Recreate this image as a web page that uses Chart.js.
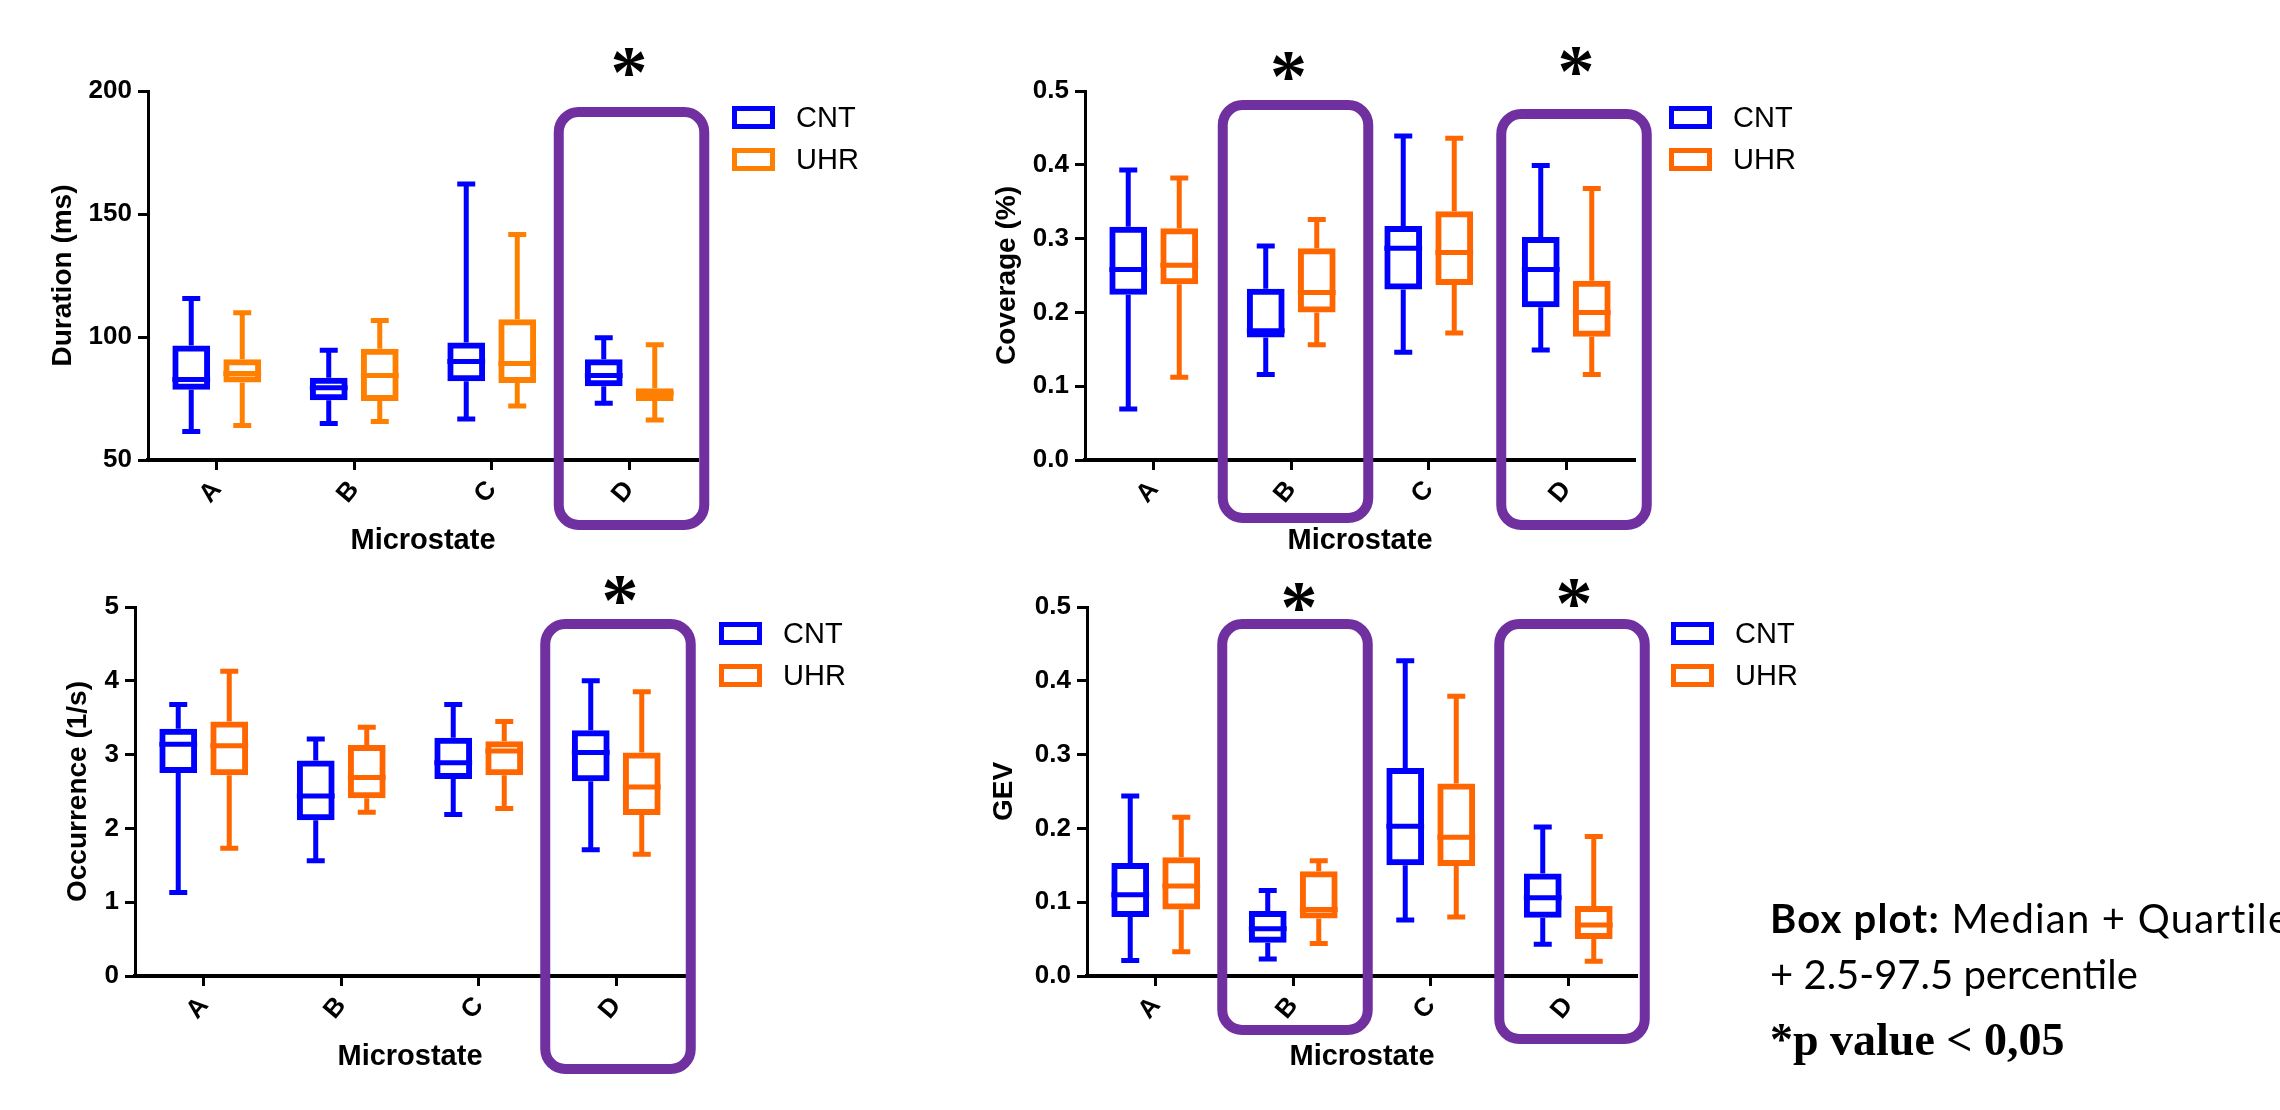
<!DOCTYPE html>
<html>
<head>
<meta charset="utf-8">
<script src="https://cdn.jsdelivr.net/npm/chart.js@4.4.1/dist/chart.umd.min.js"></script>
<style>
  html, body { margin: 0; padding: 0; background: #fff; width: 2280px; height: 1110px; overflow: hidden; }
  .panel { position: absolute; width: 940px; height: 570px; }
  .note { position: absolute; left: 1770px; white-space: nowrap; color: #000; z-index: 2; }
  .calibri { font-family: Lato, 'Open Sans', sans-serif; font-size: 40px; line-height: 40px; }
  .times { font-family: 'Liberation Serif', serif; font-weight: bold; font-size: 46px; line-height: 46px; }
</style>
</head>
<body>
<div class="panel" style="left:0px;top:0px"><canvas id="duration"></canvas></div>
<div class="panel" style="left:937px;top:0px"><canvas id="coverage"></canvas></div>
<div class="panel" style="left:-13px;top:516px"><canvas id="occurrence"></canvas></div>
<div class="panel" style="left:939px;top:516px"><canvas id="gev"></canvas></div>

<div class="note calibri" style="top:898px; letter-spacing:1.2px"><b>Box plot:</b> Median + Quartile</div>
<div class="note calibri" style="top:954px">+ 2.5-97.5 percentile</div>
<div class="note times" style="top:1017px">*p value &lt; 0,05</div>

<script>
const microstates = ['A', 'B', 'C', 'D'];

// each entry: [2.5 pct, Q1, median, Q3, 97.5 pct] for A, B, C, D
const durationCNT = [[61.6, 78.6, 82.7, 96.5, 115.7], [64.8, 74.3, 79.4, 83.4, 94.6], [66.7, 82.0, 90.0, 97.8, 162.2], [73.1, 80.0, 84.4, 91.0, 99.7]];
const durationUHR = [[64.0, 81.5, 85.2, 91.0, 109.9], [65.6, 74.0, 84.4, 95.2, 106.7], [72.0, 81.3, 89.2, 107.2, 141.7], [66.3, 74.0, 77.2, 79.2, 96.8]];

const coverageCNT = [[0.069, 0.224, 0.258, 0.316, 0.393], [0.116, 0.166, 0.175, 0.232, 0.290], [0.146, 0.231, 0.287, 0.317, 0.439], [0.149, 0.207, 0.258, 0.302, 0.399]];
const coverageUHR = [[0.112, 0.238, 0.264, 0.314, 0.382], [0.156, 0.200, 0.227, 0.287, 0.326], [0.172, 0.237, 0.281, 0.337, 0.436], [0.116, 0.167, 0.200, 0.243, 0.368]];

const occurrenceCNT = [[1.13, 2.75, 3.14, 3.35, 3.68], [1.56, 2.11, 2.44, 2.92, 3.21], [2.19, 2.67, 2.89, 3.23, 3.68], [1.71, 2.64, 3.03, 3.33, 4.00]];
const occurrenceUHR = [[1.73, 2.72, 3.12, 3.45, 4.13], [2.22, 2.41, 2.69, 3.13, 3.37], [2.27, 2.72, 3.05, 3.18, 3.45], [1.65, 2.18, 2.56, 3.03, 3.85]];

const gevCNT = [[0.021, 0.080, 0.110, 0.153, 0.244], [0.023, 0.045, 0.064, 0.088, 0.116], [0.076, 0.150, 0.203, 0.282, 0.427], [0.043, 0.079, 0.106, 0.139, 0.202]];
const gevUHR = [[0.033, 0.090, 0.122, 0.161, 0.215], [0.044, 0.078, 0.090, 0.142, 0.156], [0.080, 0.149, 0.188, 0.261, 0.379], [0.020, 0.050, 0.069, 0.095, 0.189]];

const durationTicks = [50, 100, 150, 200];
const coverageTicks = [0, 0.1, 0.2, 0.3, 0.4, 0.5];
const occurrenceTicks = [0, 1, 2, 3, 4, 5];
const gevTicks = [0, 0.1, 0.2, 0.3, 0.4, 0.5];

// microstates with p < 0.05
const durationSig = ['D'];
const coverageSig = ['B', 'D'];
const occurrenceSig = ['D'];
const gevSig = ['B', 'D'];

Chart.defaults.font.family = "'Liberation Sans', Arial, sans-serif";
Chart.defaults.color = '#000';

// whiskers, caps and median line on top of the floating Q1-Q3 bars
const boxPlot = {
    id: 'boxPlot',
    afterDatasetsDraw(chart) {
        const ctx = chart.ctx;
        const y = chart.scales.y;
        chart.data.datasets.forEach((ds, i) => {
            chart.getDatasetMeta(i).data.forEach((bar, j) => {
                const [lo, q1, med, q3, hi] = ds.stats[j];
                const half = bar.width / 2;
                ctx.save();
                ctx.strokeStyle = ds.borderColor;
                ctx.lineWidth = 5;
                ctx.beginPath();
                ctx.moveTo(bar.x, y.getPixelForValue(q3));
                ctx.lineTo(bar.x, y.getPixelForValue(hi));
                ctx.moveTo(bar.x, y.getPixelForValue(q1));
                ctx.lineTo(bar.x, y.getPixelForValue(lo));
                ctx.moveTo(bar.x - 9, y.getPixelForValue(hi));
                ctx.lineTo(bar.x + 9, y.getPixelForValue(hi));
                ctx.moveTo(bar.x - 9, y.getPixelForValue(lo));
                ctx.lineTo(bar.x + 9, y.getPixelForValue(lo));
                ctx.moveTo(bar.x - half, y.getPixelForValue(med));
                ctx.lineTo(bar.x + half, y.getPixelForValue(med));
                ctx.stroke();
                ctx.restore();
            });
        });
    }
};

// purple frames + asterisks around significant microstates, and the legend
function makeAnnotate(p) {
    return {
        id: 'annotate',
        afterDraw(chart) {
            const ctx = chart.ctx;
            const a = chart.chartArea;
            const x = chart.scales.x;
            const catW = (a.right - a.left) / chart.data.labels.length;
            ctx.save();
            p.sig.forEach((cat, k) => {
                const [fdx, top, bottom, sdx, sdy] = p.frames[k];
                const cx = x.getPixelForValue(chart.data.labels.indexOf(cat));
                ctx.strokeStyle = '#7030a0';
                ctx.lineWidth = 10;
                ctx.beginPath();
                ctx.roundRect(cx + fdx - catW / 2 - 4, a.top + top, catW + 8, (a.bottom + bottom) - (a.top + top), 20);
                ctx.stroke();
                ctx.fillStyle = '#000';
                ctx.font = 'bold 74px "Liberation Serif"';
                ctx.textAlign = 'center';
                ctx.textBaseline = 'alphabetic';
                ctx.fillText('*', cx + sdx, a.top + sdy + 35);
            });
            chart.data.datasets.forEach((ds, i) => {
                const ly = a.top + 17.5 + i * 42;
                ctx.fillStyle = '#fff';
                ctx.fillRect(a.right + 36.5, ly, 38, 18);
                ctx.strokeStyle = ds.borderColor;
                ctx.lineWidth = 5;
                ctx.strokeRect(a.right + 36.5, ly, 38, 18);
                ctx.fillStyle = '#000';
                ctx.font = "29px 'Liberation Sans'";
                ctx.textAlign = 'left';
                ctx.textBaseline = 'middle';
                ctx.fillText(ds.label, a.right + 98, ly + 10);
            });
            ctx.restore();
        }
    };
}

function boxChart(id, p) {
    const series = [['CNT', p.cnt, '#0000ff'], ['UHR', p.uhr, p.orange]];
    return new Chart(document.getElementById(id), {
        type: 'bar',
        data: {
            labels: microstates,
            datasets: series.map(([label, stats, color]) => ({
                label: label,
                stats: stats,
                data: stats.map(s => [s[1], s[3]]),
                borderColor: color,
                backgroundColor: 'rgba(0,0,0,0)',
                borderWidth: 6,
                borderSkipped: false,
                categoryPercentage: 0.742,
                barPercentage: 0.74
            }))
        },
        options: {
            responsive: true,
            maintainAspectRatio: false,
            animation: false,
            layout: { padding: { left: 0, top: 91, right: 242, bottom: 0 } },
            plugins: { legend: { display: false }, tooltip: { enabled: false } },
            scales: {
                x: {
                    offset: true,
                    grid: { display: true, drawOnChartArea: false, offset: false, tickLength: 10, tickWidth: 3, tickColor: '#000' },
                    border: { display: true, color: '#000', width: 4 },
                    ticks: { color: '#000', font: { size: 26, weight: 'bold' }, minRotation: 50, maxRotation: 50, padding: 5, autoSkip: false },
                    title: { display: true, text: 'Microstate', color: '#000', font: { size: 29, weight: 'bold' }, padding: { top: 0, bottom: 12 } },
                    afterFit: s => { s.height = 110; }
                },
                y: {
                    min: p.ticks[0],
                    max: p.ticks[p.ticks.length - 1],
                    afterBuildTicks: s => { s.ticks = p.ticks.map(v => ({ value: v })); },
                    grid: { drawOnChartArea: false, tickLength: 10, tickWidth: 3, tickColor: '#000' },
                    border: { display: true, color: '#000', width: 3 },
                    ticks: { color: '#000', font: { size: 26, weight: 'bold' }, padding: 6, callback: v => p.decimals ? v.toFixed(p.decimals) : String(v) },
                    title: { display: true, text: p.title, color: '#000', font: { size: 28, weight: 'bold' }, padding: { top: p.titlePad, bottom: 0 } },
                    afterFit: s => { s.width = 148; }
                }
            }
        },
        plugins: [boxPlot, makeAnnotate(p)]
    });
}

boxChart('duration', {
    cnt: durationCNT, uhr: durationUHR, ticks: durationTicks, decimals: 0, sig: durationSig,
    title: 'Duration (ms)', titlePad: 46, orange: '#ff8000',
    frames: [[2.25, 21, 65, -0.25, -29.5]]
});
boxChart('coverage', {
    cnt: coverageCNT, uhr: coverageUHR, ticks: coverageTicks, decimals: 1, sig: coverageSig,
    title: 'Coverage (%)', titlePad: 53, orange: '#ff6600',
    frames: [[4.25, 14, 58, -2.75, -25], [7.75, 23, 65, 9.75, -30.5]]
});
boxChart('occurrence', {
    cnt: occurrenceCNT, uhr: occurrenceUHR, ticks: occurrenceTicks, decimals: 0, sig: occurrenceSig,
    title: 'Occurrence (1/s)', titlePad: 74, orange: '#ff6600',
    frames: [[1.75, 17, 93, 3.75, -17.4]]
});
boxChart('gev', {
    cnt: gevCNT, uhr: gevUHR, ticks: gevTicks, decimals: 1, sig: gevSig,
    title: 'GEV', titlePad: 48, orange: '#ff6600',
    frames: [[1.75, 17, 54, 5.75, -10], [3.75, 17, 63, 5.75, -14]]
});
</script>
</body>
</html>
